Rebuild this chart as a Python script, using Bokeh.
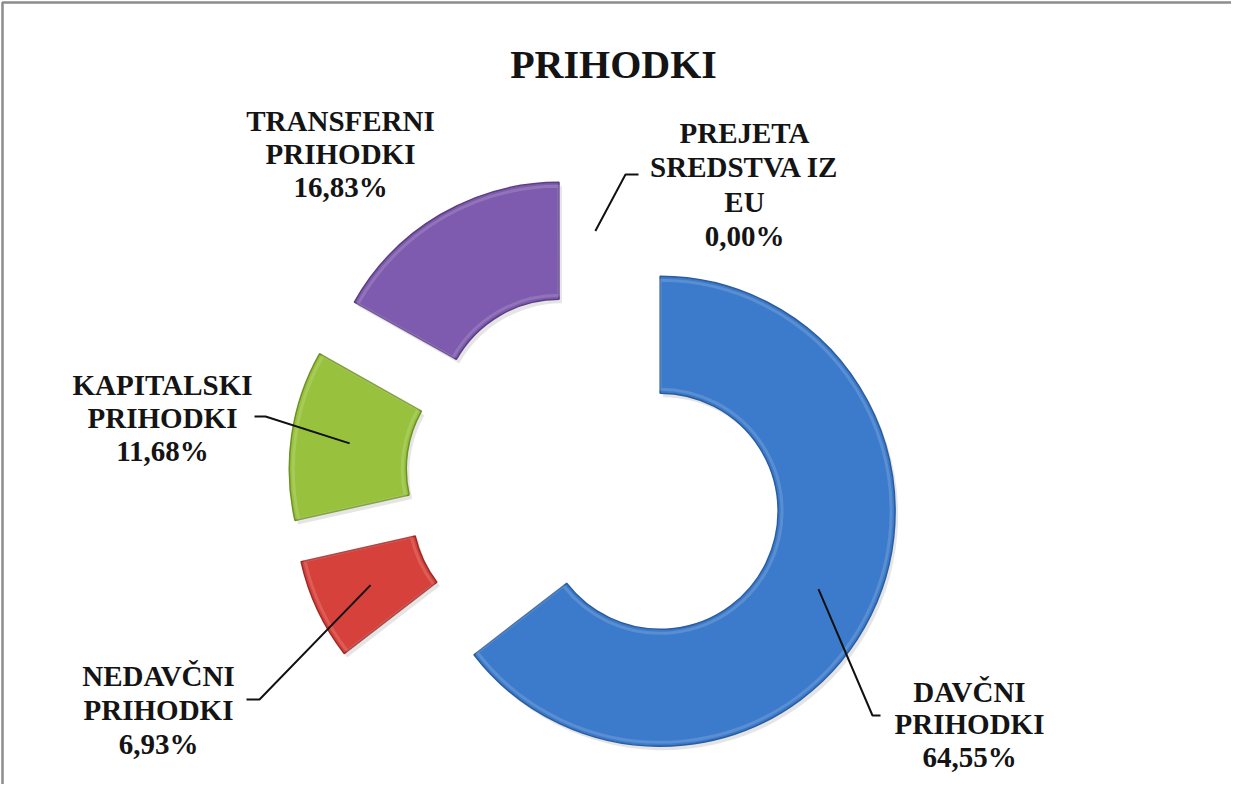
import math
from bokeh.plotting import figure
from bokeh.models import Range1d, ColumnDataSource
from bokeh.core.properties import value
from bokeh.embed import file_html
from bokeh.resources import INLINE

# ---------------- data ----------------
title_text = "PRIHODKI"
categories = ["DAVČNI PRIHODKI", "NEDAVČNI PRIHODKI", "KAPITALSKI PRIHODKI",
              "TRANSFERNI PRIHODKI", "PREJETA SREDSTVA IZ EU"]
shares = [64.55, 6.93, 11.68, 16.83, 0.00]
share_labels = ["64,55%", "6,93%", "11,68%", "16,83%", "0,00%"]
label_lines = [["DAVČNI", "PRIHODKI"], ["NEDAVČNI", "PRIHODKI"],
               ["KAPITALSKI", "PRIHODKI"], ["TRANSFERNI", "PRIHODKI"],
               ["PREJETA", "SREDSTVA IZ", "EU"]]
colors = ["#3C7BCB", "#D6413B", "#98C23D", "#7E5BAE", "#4BACC6"]
edge_colors = ["#2A5C9E", "#9E2A26", "#6E9127", "#5A3F84", "#2F7F95"]

# ---------------- layout ----------------
W, H = 1231, 784
def Y(iy):            # image-y (down) -> data-y (up)
    return 800 - iy

CX, CY = 603, Y(487)   # donut centre (before explosion)
R_OUT, R_IN = 235, 118
EXPLODE = 72
R_MID = (R_OUT + R_IN) / 2

# label block positions (image coords): x centre, first line y, step, leader elbow/end
label_layout = [
    dict(x=977, y0=699, step=32.5, leader=[(880, 723), (888, 723)]),
    dict(x=166, y0=683, step=34, leader=[(267, 707), (254, 707)]),
    dict(x=170, y0=392, step=33, leader=[(273, 424), (262, 424)]),
    dict(x=348, y0=128, step=33, leader=None),
    dict(x=752, y0=140, step=34.5, leader=[(633, 182), (646, 182)]),
]

p = figure(width=W, height=H, output_backend="svg", toolbar_location=None,
           x_range=Range1d(8, 8 + W), y_range=Range1d(8, 8 + H),
           min_border=0, outline_line_color=None,
           background_fill_color="white", border_fill_color="white")
p.axis.visible = False
p.xgrid.visible = False
p.ygrid.visible = False

# frame border (top & left visible, the rest falls outside the picture)
p.line(x=[10, 10, 8 + W], y=[8, Y(10), Y(10)], line_color="#8C8C8C", line_width=2.5)

# ---------------- slices ----------------
cum = 0.0
xs, ys, starts, ends, fills, lines = [], [], [], [], [], []
anchors = []
for v, c, ec in zip(shares, colors, edge_colors):
    t1 = cum / 100 * 2 * math.pi
    t2 = (cum + v) / 100 * 2 * math.pi
    mid = (t1 + t2) / 2
    cx = CX + EXPLODE * math.sin(mid)
    cy = CY + EXPLODE * math.cos(mid)
    anchors.append((cx + R_MID * math.sin(mid), cy + R_MID * math.cos(mid)))
    if v > 0:
        xs.append(cx); ys.append(cy)
        starts.append(math.pi / 2 - t2); ends.append(math.pi / 2 - t1)
        fills.append(c); lines.append(ec)
    cum += v

src = ColumnDataSource(dict(x=xs, y=ys, start=starts, end=ends, fill=fills, line=lines,
                            sx=[x + 3 for x in xs], sy=[y - 4 for y in ys]))
# soft shadow
p.annular_wedge(x="sx", y="sy", inner_radius=R_IN, outer_radius=R_OUT,
                start_angle="start", end_angle="end", direction="anticlock",
                fill_color="#000000", fill_alpha=0.10, line_color=None, source=src)
p.annular_wedge(x="x", y="y", inner_radius=R_IN, outer_radius=R_OUT,
                start_angle="start", end_angle="end", direction="anticlock",
                fill_color="fill", line_color="line", line_width=1.5, source=src)
# inner bevel highlight
p.annular_wedge(x="x", y="y", inner_radius=R_IN + 4, outer_radius=R_OUT - 4,
                start_angle="start", end_angle="end", direction="anticlock",
                fill_color=None, line_color="white", line_alpha=0.15, line_width=3,
                source=src)

# ---------------- labels ----------------
font = value("Liberation Serif")
for i, lay in enumerate(label_layout):
    lines_i = label_lines[i] + [share_labels[i]]
    txt_y = [Y(lay["y0"] + k * lay["step"]) for k in range(len(lines_i))]
    p.text(x=[lay["x"]] * len(lines_i), y=txt_y, text=lines_i,
           text_font=font, text_font_style="bold", text_font_size="29px",
           text_color="#141414", text_align="center", text_baseline="middle")
    if lay["leader"]:
        ax, ay = anchors[i]
        lx = [ax] + [pt[0] for pt in lay["leader"]]
        ly = [ay] + [Y(pt[1]) for pt in lay["leader"]]
        p.line(x=lx, y=ly, line_color="#111111", line_width=2)

# title
p.text(x=[621], y=[Y(72)], text=[title_text], text_font=font,
       text_font_style="bold", text_font_size="40px", text_color="#141414",
       text_align="center", text_baseline="middle")

open("out.html", "w").write(file_html(p, INLINE))
